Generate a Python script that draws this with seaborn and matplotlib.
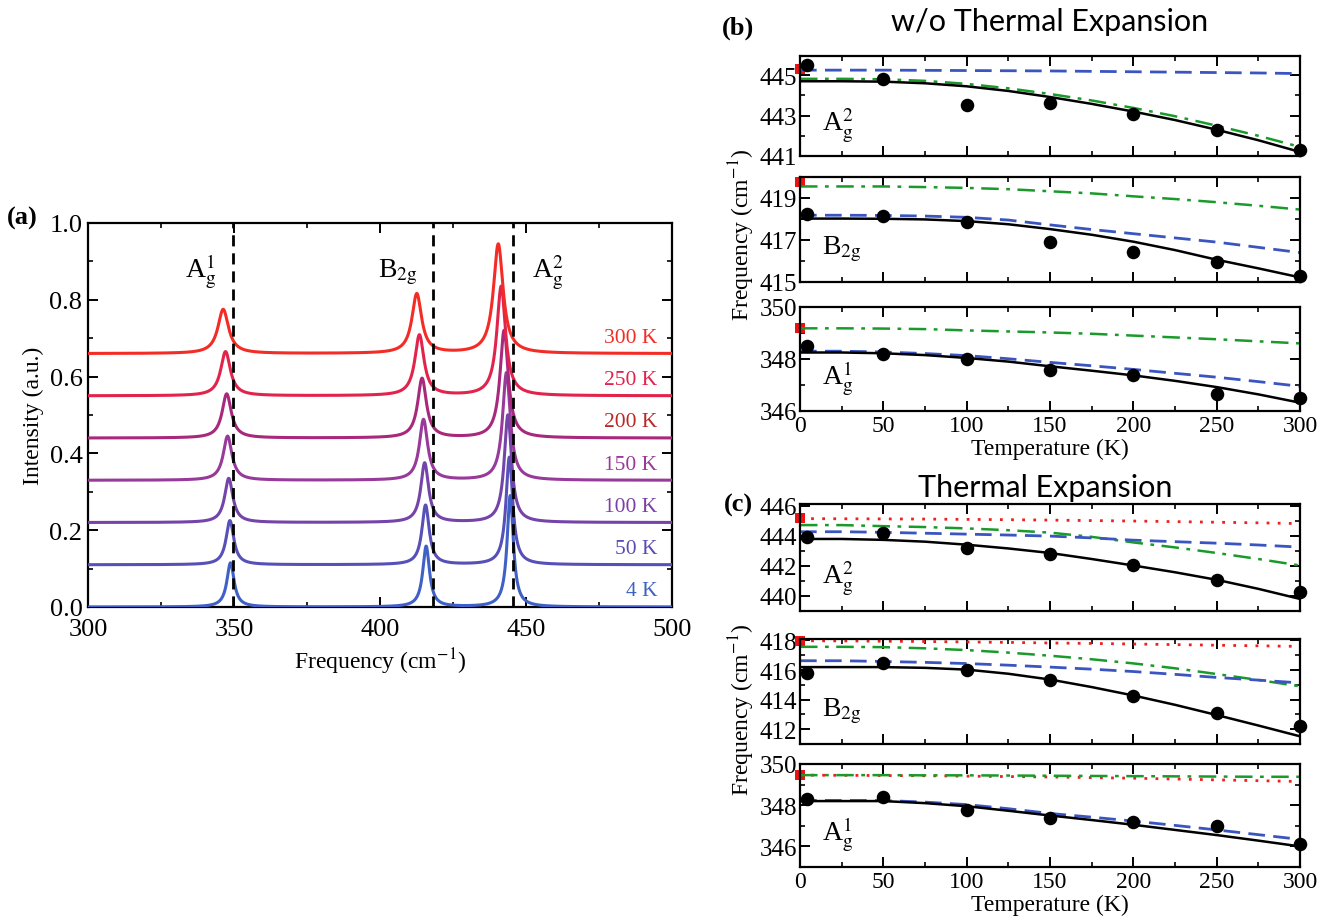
import numpy as np
import pandas as pd
import matplotlib
matplotlib.use("Agg")
import matplotlib.pyplot as plt
from matplotlib.ticker import MultipleLocator, FixedLocator, FormatStrFormatter
import seaborn as sns

# ---------------- data: panel (a) Raman spectra ----------------
temps_a = ["4 K", "50 K", "100 K", "150 K", "200 K", "250 K", "300 K"]
offsets = [0.0, 0.11, 0.22, 0.33, 0.44, 0.55, 0.66]
pos_A1 = [348.8, 348.6, 348.2, 347.8, 347.5, 347.1, 346.3]
pos_B2g = [415.8, 415.6, 415.3, 414.9, 414.4, 413.5, 412.6]
pos_A2 = [444.6, 444.3, 443.8, 443.3, 442.5, 441.5, 440.5]
h_A1 = [0.115, 0.115, 0.115, 0.115, 0.115, 0.115, 0.115]
h_B2g = [0.158, 0.155, 0.155, 0.158, 0.155, 0.158, 0.155]
h_A2 = [0.29, 0.28, 0.28, 0.28, 0.28, 0.285, 0.285]
hw_A1 = [1.5, 1.6, 1.7, 1.8, 1.9, 2.0, 2.2]
hw_B2g = [1.4, 1.5, 1.6, 1.7, 1.8, 1.9, 2.0]
hw_A2 = [1.3, 1.4, 1.5, 1.6, 1.7, 1.8, 2.0]
ref_lines = [349.6, 418.0, 445.5]
mode_labels = [r"A$_\mathrm{g}^1$", r"B$_\mathrm{2g}$", r"A$_\mathrm{g}^2$"]
mode_label_x = [338.5, 406.0, 457.5]
line_colors = ["#3f60c6", "#5650b8", "#7444a8", "#983a9a", "#a8287c", "#e2244c", "#f42c26"]
label_colors = ["#3f60c6", "#5a4cb5", "#7c3fa5", "#9a3a98", "#b82a2a", "#e2244c", "#f42c26"]

# ---------------- data: panels (b) and (c) ----------------
T_curve = [0, 25, 50, 75, 100, 125, 150, 175, 200, 225, 250, 275, 300]
T_pts = [4, 50, 100, 150, 200, 250, 300]

# (b) w/o thermal expansion
b_A2_black = [444.70, 444.70, 444.68, 444.60, 444.45, 444.22, 443.92, 443.58, 443.20, 442.78, 442.30, 441.78, 441.20]
b_A2_green = [444.82, 444.82, 444.80, 444.72, 444.57, 444.35, 444.07, 443.75, 443.38, 442.97, 442.50, 442.00, 441.45]
b_A2_blue = [445.25, 445.25, 445.25, 445.24, 445.23, 445.22, 445.21, 445.19, 445.17, 445.15, 445.13, 445.11, 445.08]
b_A2_dots = [445.5, 444.8, 443.5, 443.6, 443.1, 442.3, 441.3]
b_A2_red = 445.3
b_A2_ticks = [441, 443, 445]

b_B2g_black = [418.02, 418.02, 418.01, 417.98, 417.90, 417.75, 417.52, 417.25, 416.92, 416.52, 416.06, 415.65, 415.22]
b_B2g_green = [419.55, 419.55, 419.55, 419.52, 419.48, 419.42, 419.32, 419.22, 419.08, 418.95, 418.80, 418.63, 418.45]
b_B2g_blue = [418.18, 418.18, 418.17, 418.14, 418.08, 417.95, 417.72, 417.50, 417.30, 417.10, 416.90, 416.65, 416.40]
b_B2g_dots = [418.25, 418.15, 417.85, 416.9, 416.45, 415.95, 415.3]
b_B2g_red = 419.75
b_B2g_ticks = [415, 417, 419]

b_A1_black = [348.25, 348.25, 348.22, 348.15, 348.04, 347.90, 347.72, 347.55, 347.37, 347.16, 346.92, 346.64, 346.32]
b_A1_green = [349.18, 349.18, 349.17, 349.15, 349.10, 349.06, 349.02, 348.97, 348.90, 348.83, 348.76, 348.68, 348.60]
b_A1_blue = [348.30, 348.30, 348.27, 348.21, 348.13, 348.01, 347.87, 347.74, 347.60, 347.45, 347.30, 347.13, 346.95]
b_A1_dots = [348.5, 348.2, 348.0, 347.56, 347.37, 346.65, 346.5]
b_A1_red = 349.2
b_A1_ticks = [346, 348, 350]

# (c) with thermal expansion
c_A2_red = [445.13, 445.12, 445.11, 445.10, 445.08, 445.06, 445.03, 445.00, 444.97, 444.93, 444.89, 444.85, 444.80]
c_A2_green = [444.70, 444.70, 444.63, 444.57, 444.48, 444.36, 444.20, 443.92, 443.55, 443.22, 442.85, 442.45, 442.02]
c_A2_blue = [444.26, 444.26, 444.22, 444.16, 444.10, 444.04, 443.97, 443.85, 443.70, 443.60, 443.50, 443.38, 443.24]
c_A2_black = [443.78, 443.78, 443.72, 443.60, 443.40, 443.15, 442.85, 442.45, 442.02, 441.57, 441.07, 440.47, 439.80]
c_A2_dots = [443.9, 444.15, 443.17, 442.8, 442.05, 441.07, 440.25]
c_A2_sq = 445.15
c_A2_ticks = [440, 442, 444, 446]

c_B2g_red = [417.98, 417.97, 417.95, 417.93, 417.90, 417.87, 417.83, 417.80, 417.76, 417.72, 417.68, 417.64, 417.60]
c_B2g_green = [417.57, 417.57, 417.55, 417.47, 417.35, 417.18, 416.97, 416.73, 416.45, 416.12, 415.73, 415.33, 414.90]
c_B2g_blue = [416.63, 416.63, 416.58, 416.52, 416.44, 416.33, 416.20, 416.06, 415.90, 415.71, 415.50, 415.32, 415.13]
c_B2g_black = [416.20, 416.20, 416.20, 416.15, 416.03, 415.75, 415.36, 414.85, 414.28, 413.65, 412.96, 412.25, 411.52]
c_B2g_dots = [415.8, 416.45, 416.0, 415.3, 414.25, 413.1, 412.25]
c_B2g_sq = 417.95
c_B2g_ticks = [412, 414, 416, 418]

c_A1_red = [349.46, 349.45, 349.44, 349.43, 349.41, 349.39, 349.37, 349.34, 349.31, 349.27, 349.23, 349.19, 349.15]
c_A1_green = [349.46, 349.46, 349.46, 349.45, 349.45, 349.44, 349.43, 349.42, 349.41, 349.40, 349.39, 349.38, 349.38]
c_A1_blue = [348.23, 348.23, 348.23, 348.15, 348.03, 347.83, 347.60, 347.42, 347.23, 347.02, 346.80, 346.57, 346.34]
c_A1_black = [348.20, 348.20, 348.20, 348.10, 347.95, 347.73, 347.50, 347.28, 347.05, 346.80, 346.55, 346.28, 346.00]
c_A1_dots = [348.3, 348.4, 347.77, 347.38, 347.2, 346.98, 346.1]
c_A1_sq = 349.46
c_A1_ticks = [346, 348, 350]

# ---------------- style ----------------
sns.set_theme(style="ticks")
plt.rcParams.update({
    "font.family": ["Liberation Serif", "DejaVu Serif"],
    "mathtext.fontset": "stix",
    "axes.linewidth": 1.6,
    "axes.edgecolor": "black",
    "text.color": "black",
    "axes.labelcolor": "black",
    "xtick.color": "black",
    "ytick.color": "black",
    "xtick.direction": "in",
    "ytick.direction": "in",
    "xtick.top": True,
    "ytick.right": True,
    "xtick.major.size": 7,
    "ytick.major.size": 7,
    "xtick.minor.size": 3.5,
    "ytick.minor.size": 3.5,
    "xtick.major.width": 1.4,
    "ytick.major.width": 1.4,
    "xtick.minor.width": 1.2,
    "ytick.minor.width": 1.2,
    "xtick.labelsize": 18,
    "ytick.labelsize": 18,
    "axes.labelsize": 16,
})

fig = plt.figure(figsize=(13.2, 9.2), dpi=100)
W, H = 1320.0, 920.0


def add_ax(x0, x1, y0, y1):
    return fig.add_axes([x0 / W, 1 - y1 / H, (x1 - x0) / W, (y1 - y0) / H])


# ---------------- panel (a) ----------------
axa = add_ax(88, 672, 224, 608)
freq = np.linspace(300, 500, 2001)


def lor(x, x0, h, g):
    return h * g ** 2 / ((x - x0) ** 2 + g ** 2)


for i, t in enumerate(temps_a):
    inten = (offsets[i]
             + lor(freq, pos_A1[i], h_A1[i], hw_A1[i])
             + lor(freq, pos_B2g[i], h_B2g[i], hw_B2g[i])
             + lor(freq, pos_A2[i], h_A2[i], hw_A2[i]))
    sns.lineplot(x=freq, y=inten, ax=axa, color=line_colors[i], lw=2.2, zorder=3)
    axa.text(495, offsets[i] + 0.042, t, color=label_colors[i], ha="right", va="center", fontsize=15.5)

for xv in ref_lines:
    axa.axvline(xv, color="black", lw=2.0, ls=(0, (4, 2.5)), zorder=4)
for lab, xv in zip(mode_labels, mode_label_x):
    axa.text(xv, 0.875, lab, ha="center", va="center", fontsize=20)

axa.set_xlim(300, 500)
axa.set_ylim(0, 1.0)
axa.xaxis.set_major_locator(MultipleLocator(50))
axa.xaxis.set_minor_locator(MultipleLocator(25))
axa.yaxis.set_major_locator(MultipleLocator(0.2))
axa.yaxis.set_minor_locator(MultipleLocator(0.1))
axa.yaxis.set_major_formatter(FormatStrFormatter("%.1f"))
axa.tick_params(axis="x", labelsize=19, pad=8)
axa.tick_params(axis="y", labelsize=19, pad=4)
axa.set_xlabel(r"Frequency (cm$^{-1}$)", fontsize=17, labelpad=4)
axa.set_ylabel("Intensity (a.u.)", fontsize=17, labelpad=4)
fig.text(22 / W, 1 - 218 / H, "(a)", fontsize=19, fontweight="bold", ha="center", va="center")

# ---------------- panels (b), (c) ----------------
BLUE = "#3a55c0"
GREEN = "#1a9a2a"
RED = "#f02020"


def small_panel(ax, black, green, blue, dots, sq, ylim, yticks, label, red=None, showx=False):
    if red is not None:
        sns.lineplot(x=T_curve, y=red, ax=ax, color=RED, lw=2.0, ls=(0, (1, 3)), zorder=2)
    sns.lineplot(x=T_curve, y=green, ax=ax, color=GREEN, lw=1.8, ls=(0, (7, 3, 1.5, 3)), zorder=2)
    sns.lineplot(x=T_curve, y=blue, ax=ax, color=BLUE, lw=2.0, ls=(0, (6, 3)), zorder=2)
    sns.lineplot(x=T_curve, y=black, ax=ax, color="black", lw=1.8, zorder=3)
    sns.scatterplot(x=T_pts, y=dots, ax=ax, color="black", s=95, edgecolor="black",
                    linewidth=0, zorder=5, clip_on=False)
    sns.scatterplot(x=[0], y=[sq], ax=ax, color="#ee1111", marker="s", s=55,
                    linewidth=0, zorder=1, clip_on=False)
    ax.set_xlim(0, 300)
    ax.set_ylim(*ylim)
    ax.xaxis.set_major_locator(MultipleLocator(50))
    ax.xaxis.set_minor_locator(MultipleLocator(25))
    ax.yaxis.set_major_locator(FixedLocator(yticks))
    ax.yaxis.set_minor_locator(MultipleLocator(1))
    ax.tick_params(axis="y", labelsize=18, pad=2)
    ax.tick_params(axis="x", labelsize=17, pad=3)
    ax.text(0.045, 0.32, label, transform=ax.transAxes, fontsize=20, ha="left", va="center")
    ax.set_ylabel("")
    if showx:
        ax.set_xlabel("Temperature (K)", fontsize=17, labelpad=1)
    else:
        ax.set_xlabel("")
        ax.tick_params(axis="x", labelbottom=False)


X0, X1 = 800, 1300
ax_b1 = add_ax(X0, X1, 57, 157)
ax_b2 = add_ax(X0, X1, 178, 283)
ax_b3 = add_ax(X0, X1, 308, 412)
small_panel(ax_b1, b_A2_black, b_A2_green, b_A2_blue, b_A2_dots, b_A2_red, (441, 445.95), b_A2_ticks, mode_labels[2])
small_panel(ax_b2, b_B2g_black, b_B2g_green, b_B2g_blue, b_B2g_dots, b_B2g_red, (415, 420), b_B2g_ticks, mode_labels[1])
small_panel(ax_b3, b_A1_black, b_A1_green, b_A1_blue, b_A1_dots, b_A1_red, (346, 350), b_A1_ticks, mode_labels[0], showx=True)

ax_c1 = add_ax(X0, X1, 505, 612)
ax_c2 = add_ax(X0, X1, 640, 745)
ax_c3 = add_ax(X0, X1, 765, 868)
small_panel(ax_c1, c_A2_black, c_A2_green, c_A2_blue, c_A2_dots, c_A2_sq, (439, 446.1), c_A2_ticks, mode_labels[2], red=c_A2_red)
small_panel(ax_c2, c_B2g_black, c_B2g_green, c_B2g_blue, c_B2g_dots, c_B2g_sq, (411, 418.1), c_B2g_ticks, mode_labels[1], red=c_B2g_red)
small_panel(ax_c3, c_A1_black, c_A1_green, c_A1_blue, c_A1_dots, c_A1_sq, (345, 350), c_A1_ticks, mode_labels[0], red=c_A1_red, showx=True)

fig.text(742 / W, 1 - 235 / H, r"Frequency (cm$^{-1}$)", rotation=90, fontsize=17, ha="center", va="center")
fig.text(742 / W, 1 - 710 / H, r"Frequency (cm$^{-1}$)", rotation=90, fontsize=17, ha="center", va="center")

fig.text(738 / W, 1 - 28 / H, "(b)", fontsize=19, fontweight="bold", ha="center", va="center")
fig.text(738 / W, 1 - 505 / H, "(c)", fontsize=19, fontweight="bold", ha="center", va="center")
fig.text(1050 / W, 1 - 22 / H, "w/o Thermal Expansion", fontsize=22, ha="center", va="center",
         family=["Lato", "DejaVu Sans"])
fig.text(1045 / W, 1 - 488 / H, "Thermal Expansion", fontsize=22, ha="center", va="center",
         family=["Lato", "DejaVu Sans"])

fig.savefig("out.png", dpi=100, facecolor="white")
